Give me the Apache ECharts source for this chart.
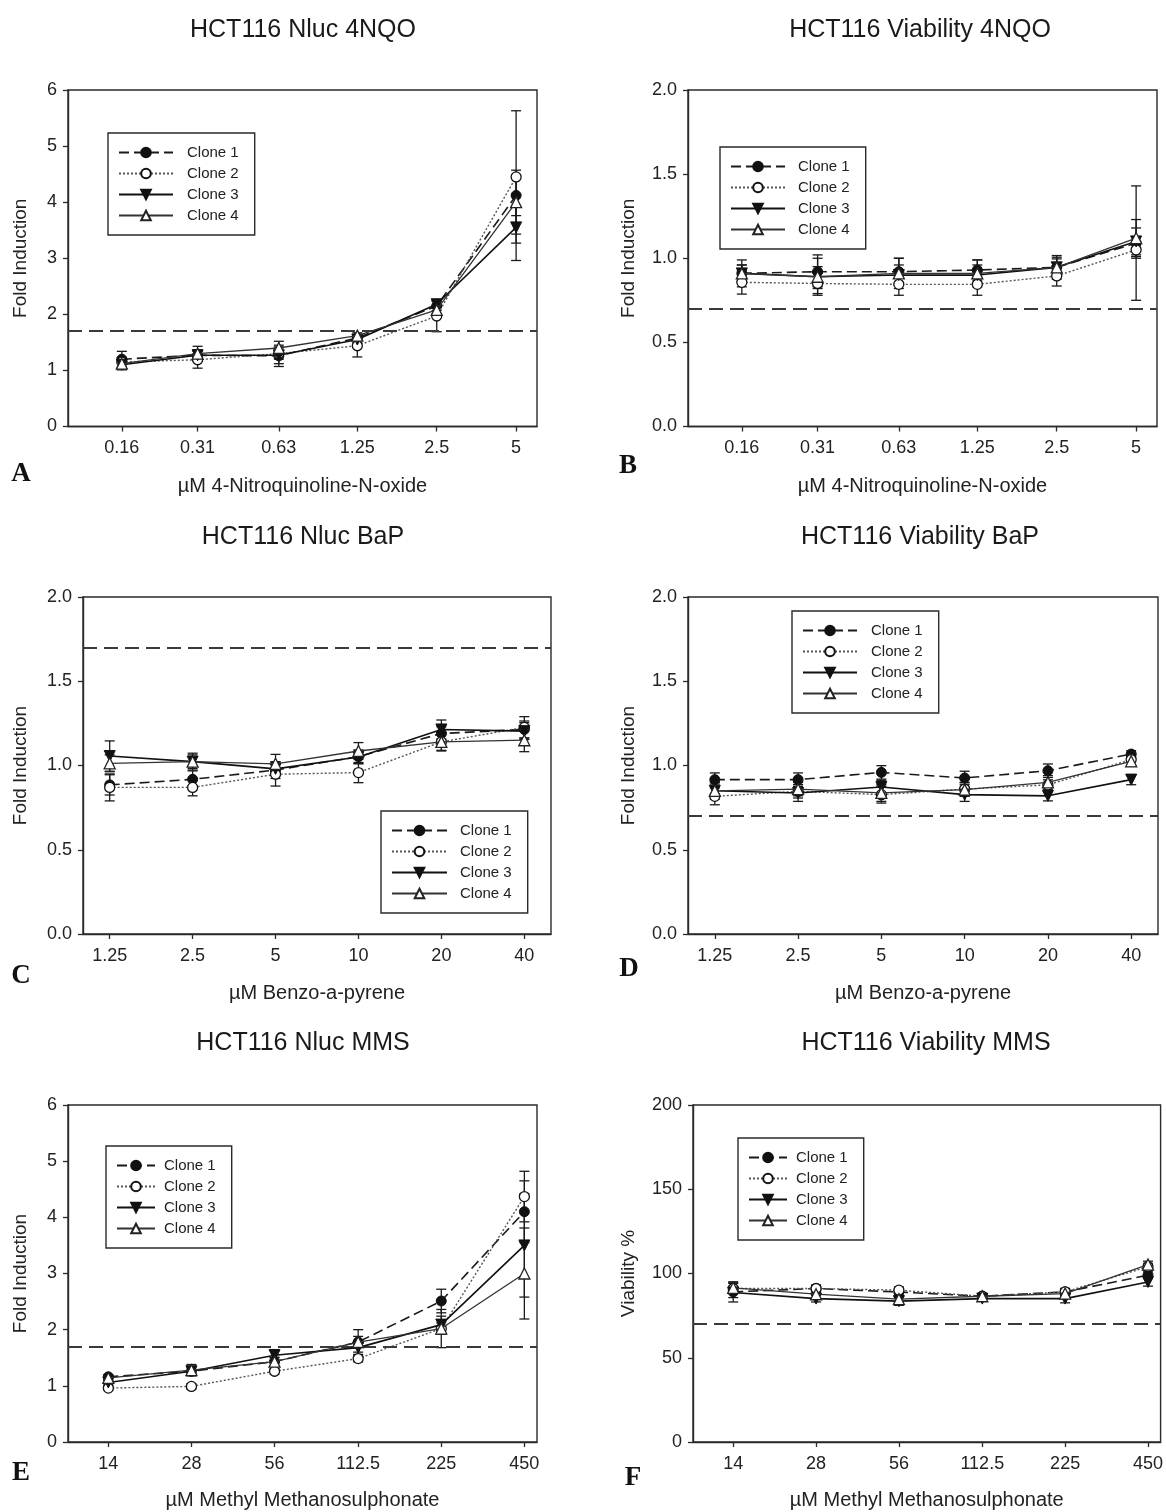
<!DOCTYPE html>
<html>
<head>
<meta charset="utf-8">
<script src="https://cdn.jsdelivr.net/npm/echarts@6/dist/echarts.min.js"></script>
<style>
  html, body { margin: 0; padding: 0; background: #fff; }
  #chart { width: 1166px; height: 1512px; }
</style>
</head>
<body>
<div id="chart"></div>
<script>
// ---- doses (µM) ----
const nqoDoses = [0.16, 0.31, 0.63, 1.25, 2.5, 5];
const bapDoses = [1.25, 2.5, 5, 10, 20, 40];
const mmsDoses = [14, 28, 56, 112.5, 225, 450];

const cloneNames = ['Clone 1', 'Clone 2', 'Clone 3', 'Clone 4'];

// ---- A: Nluc 4NQO (fold induction, mean and SD) ----
const nqoNluc1 = [1.20, 1.27, 1.26, 1.58, 2.15, 4.12];
const nqoNluc2 = [1.15, 1.19, 1.30, 1.44, 1.97, 4.45];
const nqoNluc3 = [1.10, 1.27, 1.27, 1.55, 2.18, 3.55];
const nqoNluc4 = [1.12, 1.30, 1.40, 1.62, 2.08, 4.00];
const nqoNluc1Sd = [0.14, 0.08, 0.19, 0.05, 0.08, 0.36];
const nqoNluc2Sd = [0.08, 0.15, 0.10, 0.20, 0.28, 1.18];
const nqoNluc3Sd = [0.09, 0.10, 0.15, 0.05, 0.05, 0.59];
const nqoNluc4Sd = [0.10, 0.13, 0.12, 0.05, 0.08, 0.57];

// ---- B: Viability 4NQO ----
const nqoVia1 = [0.91, 0.92, 0.92, 0.93, 0.946, 1.09];
const nqoVia2 = [0.857, 0.85, 0.845, 0.845, 0.895, 1.05];
const nqoVia3 = [0.91, 0.89, 0.90, 0.90, 0.946, 1.10];
const nqoVia4 = [0.91, 0.89, 0.91, 0.91, 0.946, 1.12];
const nqoVia1Sd = [0.08, 0.10, 0.08, 0.06, 0.07, 0.34];
const nqoVia2Sd = [0.07, 0.06, 0.065, 0.065, 0.06, 0.05];
const nqoVia3Sd = [0.05, 0.11, 0.06, 0.06, 0.05, 0.08];
const nqoVia4Sd = [0.05, 0.06, 0.09, 0.08, 0.06, 0.11];

// ---- C: Nluc BaP ----
const bapNluc1 = [0.885, 0.918, 0.973, 1.052, 1.19, 1.214];
const bapNluc2 = [0.87, 0.87, 0.948, 0.958, 1.14, 1.226];
const bapNluc3 = [1.056, 1.023, 0.98, 1.05, 1.214, 1.204];
const bapNluc4 = [1.013, 1.023, 1.01, 1.086, 1.14, 1.15];
const bapNluc1Sd = [0.06, 0.05, 0.05, 0.04, 0.04, 0.05];
const bapNluc2Sd = [0.08, 0.05, 0.07, 0.06, 0.054, 0.064];
const bapNluc3Sd = [0.09, 0.04, 0.04, 0.04, 0.056, 0.05];
const bapNluc4Sd = [0.05, 0.05, 0.056, 0.05, 0.05, 0.068];

// ---- D: Viability BaP ----
const bapVia1 = [0.916, 0.916, 0.959, 0.926, 0.969, 1.068];
const bapVia2 = [0.817, 0.847, 0.827, 0.86, 0.885, 1.035];
const bapVia3 = [0.85, 0.837, 0.872, 0.827, 0.82, 0.916];
const bapVia4 = [0.85, 0.86, 0.837, 0.857, 0.90, 1.025];
const bapVia1Sd = [0.04, 0.04, 0.04, 0.04, 0.04, 0.02];
const bapVia2Sd = [0.05, 0.04, 0.05, 0.04, 0.03, 0.03];
const bapVia3Sd = [0.05, 0.05, 0.04, 0.04, 0.03, 0.03];
const bapVia4Sd = [0.04, 0.04, 0.05, 0.04, 0.04, 0.03];

// ---- E: Nluc MMS ----
const mmsNluc1 = [1.16, 1.26, 1.43, 1.78, 2.51, 4.10];
const mmsNluc2 = [0.96, 0.99, 1.26, 1.485, 2.02, 4.37];
const mmsNluc3 = [1.06, 1.26, 1.545, 1.68, 2.09, 3.50];
const mmsNluc4 = [1.14, 1.28, 1.43, 1.78, 2.02, 3.00];
const mmsNluc1Sd = [0.04, 0.08, 0.07, 0.22, 0.21, 0.55];
const mmsNluc2Sd = [0.04, 0.05, 0.05, 0.06, 0.10, 0.45];
const mmsNluc3Sd = [0.04, 0.06, 0.10, 0.08, 0.15, 0.92];
const mmsNluc4Sd = [0.04, 0.10, 0.08, 0.10, 0.34, 0.81];

// ---- F: Viability MMS (%) ----
const mmsVia1 = [89.1, 91.1, 89.0, 86.5, 89.1, 99.0];
const mmsVia2 = [91.1, 91.1, 90.1, 86.5, 89.1, 104.0];
const mmsVia3 = [88.7, 85.1, 83.6, 85.1, 85.1, 95.0];
const mmsVia4 = [91.5, 87.7, 84.8, 86.5, 88.1, 105.3];
const mmsVia1Sd = [6, 2, 2, 1.5, 2, 2];
const mmsVia2Sd = [3, 2, 2, 1.5, 2, 2];
const mmsVia3Sd = [3, 2, 2.5, 1.5, 2.5, 2.5];
const mmsVia4Sd = [3, 2, 2, 1.5, 2, 2];

// cut-off lines (induction 1.7, viability 0.7 / 70 %)
const thresholds = [1.7, 0.7, 1.7, 0.7, 1.7, 70];

// ---- panel layout ----
const FONT = '"Liberation Sans", Arial, Helvetica, sans-serif';
const panels = [
  { letter: 'A', title: 'HCT116 Nluc 4NQO', doses: nqoDoses, xMin: 0.1, xMax: 6,
    xName: 'µM 4-Nitroquinoline-N-oxide', yName: 'Fold Induction', yMax: 6, yStep: 1, yDec: 0,
    means: [nqoNluc1, nqoNluc2, nqoNluc3, nqoNluc4], sds: [nqoNluc1Sd, nqoNluc2Sd, nqoNluc3Sd, nqoNluc4Sd],
    grid: { left: 68, top: 90, width: 469, height: 336.5 }, yGap: 38, xGap: 50,
    legend: { left: 108, top: 133, w: 54, tp: 9 }, titlePos: [303, 30], letterPos: [21, 474] },
  { letter: 'B', title: 'HCT116 Viability 4NQO', doses: nqoDoses, xMin: 0.1, xMax: 6,
    xName: 'µM 4-Nitroquinoline-N-oxide', yName: 'Fold Induction', yMax: 2, yStep: 0.5, yDec: 1,
    means: [nqoVia1, nqoVia2, nqoVia3, nqoVia4], sds: [nqoVia1Sd, nqoVia2Sd, nqoVia3Sd, nqoVia4Sd],
    grid: { left: 688, top: 90, width: 469, height: 336.5 }, yGap: 50, xGap: 50,
    legend: { left: 720, top: 147, w: 54, tp: 8 }, titlePos: [920, 30], letterPos: [628, 466] },
  { letter: 'C', title: 'HCT116 Nluc BaP', doses: bapDoses, xMin: 1, xMax: 50,
    xName: 'µM Benzo-a-pyrene', yName: 'Fold Induction', yMax: 2, yStep: 0.5, yDec: 1,
    means: [bapNluc1, bapNluc2, bapNluc3, bapNluc4], sds: [bapNluc1Sd, bapNluc2Sd, bapNluc3Sd, bapNluc4Sd],
    grid: { left: 83, top: 597, width: 468, height: 337 }, yGap: 53, xGap: 49,
    legend: { left: 381, top: 811, w: 55, tp: 8 }, titlePos: [303, 537], letterPos: [21, 976] },
  { letter: 'D', title: 'HCT116 Viability BaP', doses: bapDoses, xMin: 1, xMax: 50,
    xName: 'µM Benzo-a-pyrene', yName: 'Fold Induction', yMax: 2, yStep: 0.5, yDec: 1,
    means: [bapVia1, bapVia2, bapVia3, bapVia4], sds: [bapVia1Sd, bapVia2Sd, bapVia3Sd, bapVia4Sd],
    grid: { left: 688, top: 597, width: 470, height: 337 }, yGap: 50, xGap: 49,
    legend: { left: 792, top: 611, w: 54, tp: 9 }, titlePos: [920, 537], letterPos: [629, 969] },
  { letter: 'E', title: 'HCT116 Nluc MMS', doses: mmsDoses, xMin: 10, xMax: 500,
    xName: 'µM Methyl Methanosulphonate', yName: 'Fold Induction', yMax: 6, yStep: 1, yDec: 0,
    means: [mmsNluc1, mmsNluc2, mmsNluc3, mmsNluc4], sds: [mmsNluc1Sd, mmsNluc2Sd, mmsNluc3Sd, mmsNluc4Sd],
    grid: { left: 68, top: 1105, width: 469, height: 337 }, yGap: 38, xGap: 48,
    legend: { left: 106, top: 1146, w: 38, tp: 4 }, titlePos: [303, 1043], letterPos: [21, 1473] },
  { letter: 'F', title: 'HCT116 Viability MMS', doses: mmsDoses, xMin: 10, xMax: 500,
    xName: 'µM Methyl Methanosulphonate', yName: 'Viability %', yMax: 200, yStep: 50, yDec: 0,
    means: [mmsVia1, mmsVia2, mmsVia3, mmsVia4], sds: [mmsVia1Sd, mmsVia2Sd, mmsVia3Sd, mmsVia4Sd],
    grid: { left: 693, top: 1105, width: 469, height: 337 }, yGap: 55, xGap: 48,
    legend: { left: 738, top: 1138, w: 38, tp: 4 }, titlePos: [926, 1043], letterPos: [633, 1478] }
];

// ---- clone styles ----
const TRI_DOWN = 'path://M0,0 L10,0 L5,9 Z';
const cloneStyles = [
  { symbol: 'circle', size: 10, item: { color: '#111', borderColor: '#111', borderWidth: 1 },
    line: { color: '#1a1a1a', width: 1.6, type: [10, 5] } },
  { symbol: 'circle', size: 10, item: { color: '#fff', borderColor: '#111', borderWidth: 1.3 },
    line: { color: '#555', width: 1.4, type: [2, 2] } },
  { symbol: TRI_DOWN, size: 11, item: { color: '#111', borderColor: '#111', borderWidth: 1 },
    line: { color: '#111', width: 1.6, type: 'solid' } },
  { symbol: 'triangle', size: 11, item: { color: '#fff', borderColor: '#222', borderWidth: 1.3 },
    line: { color: '#333', width: 1.3, type: 'solid' } }
];

function renderErrorBar(params, api) {
  const x = api.value(0), m = api.value(1), s = api.value(2);
  const hi = api.coord([x, m + s]);
  const lo = api.coord([x, m - s]);
  const hw = 5;
  const st = { stroke: '#1a1a1a', lineWidth: 1.3 };
  return {
    type: 'group',
    children: [
      { type: 'line', shape: { x1: hi[0], y1: hi[1], x2: lo[0], y2: lo[1] }, style: st },
      { type: 'line', shape: { x1: hi[0] - hw, y1: hi[1], x2: hi[0] + hw, y2: hi[1] }, style: st },
      { type: 'line', shape: { x1: lo[0] - hw, y1: lo[1], x2: lo[0] + hw, y2: lo[1] }, style: st }
    ]
  };
}

const grids = [], xAxes = [], yAxes = [], series = [], legends = [], graphics = [];

panels.forEach((p, gi) => {
  grids.push(Object.assign({ show: true, borderColor: '#2a2a2a', borderWidth: 1.4, backgroundColor: 'transparent' }, p.grid));

  xAxes.push({
    type: 'log', logBase: 2, gridIndex: gi, min: p.xMin, max: p.xMax,
    name: p.xName, nameLocation: 'middle', nameGap: p.xGap,
    nameTextStyle: { fontFamily: FONT, fontSize: 20, color: '#222' },
    axisLine: { show: true, onZero: false, lineStyle: { color: '#2a2a2a', width: 1.4 } },
    axisTick: { show: true, inside: false, length: 5, customValues: p.doses, lineStyle: { color: '#2a2a2a', width: 1.3 } },
    axisLabel: { show: true, margin: 13, customValues: p.doses, fontFamily: FONT, fontSize: 18, color: '#222',
      formatter: v => String(+Number(v).toPrecision(4)) },
    minorTick: { show: false }, splitLine: { show: false }
  });

  yAxes.push({
    type: 'value', gridIndex: gi, min: 0, max: p.yMax, interval: p.yStep,
    name: p.yName, nameLocation: 'middle', nameGap: p.yGap,
    nameTextStyle: { fontFamily: FONT, fontSize: 19, color: '#222' },
    axisLine: { show: true, lineStyle: { color: '#2a2a2a', width: 1.4 } },
    axisTick: { show: true, inside: false, length: 5, lineStyle: { color: '#2a2a2a', width: 1.3 } },
    axisLabel: { margin: 11, fontFamily: FONT, fontSize: 18, color: '#222', formatter: v => v.toFixed(p.yDec) },
    splitLine: { show: false }
  });

  // error bars beneath the lines
  p.means.forEach((vals, ci) => {
    series.push({
      type: 'custom', name: p.letter + '-sd-' + (ci + 1), xAxisIndex: gi, yAxisIndex: gi,
      renderItem: renderErrorBar, encode: { x: 0, y: 1 }, z: 2, silent: true,
      data: p.doses.map((d, i) => [d, vals[i], p.sds[ci][i]])
    });
  });

  p.means.forEach((vals, ci) => {
    const cs = cloneStyles[ci];
    const s = {
      type: 'line', name: cloneNames[ci], xAxisIndex: gi, yAxisIndex: gi, z: 3 + ci,
      symbol: cs.symbol, symbolSize: cs.size, showSymbol: true, showAllSymbol: true,
      itemStyle: cs.item, lineStyle: cs.line, emphasis: { disabled: true },
      data: p.doses.map((d, i) => [d, vals[i]])
    };
    if (ci === 0) {
      s.markLine = {
        silent: true, symbol: 'none', label: { show: false },
        lineStyle: { color: '#3a3a3a', width: 2, type: [14, 7] },
        data: [{ yAxis: thresholds[gi] }]
      };
    }
    series.push(s);
  });

  legends.push({
    orient: 'vertical', left: p.legend.left, top: p.legend.top,
    data: cloneNames, itemWidth: p.legend.w, itemHeight: 12, itemGap: 6,
    padding: [12, 16, 12, 10], borderColor: '#2a2a2a', borderWidth: 1.4,
    backgroundColor: '#fff', selectedMode: false,
    textStyle: { fontFamily: FONT, fontSize: 15, color: '#222', lineHeight: 12, padding: [0, 0, 0, p.legend.tp] }
  });

  graphics.push({
    type: 'text', x: p.titlePos[0], y: p.titlePos[1],
    style: { text: p.title, font: '25px ' + FONT, fill: '#1a1a1a',
      align: 'center', verticalAlign: 'middle', textAlign: 'center', textVerticalAlign: 'middle' }
  });
  graphics.push({
    type: 'text', x: p.letterPos[0], y: p.letterPos[1],
    style: { text: p.letter, font: 'bold 27px "Liberation Serif", "Times New Roman", serif', fill: '#111',
      align: 'center', verticalAlign: 'middle', textAlign: 'center', textVerticalAlign: 'middle' }
  });
});

const chart = echarts.init(document.getElementById('chart'), null, { renderer: 'canvas' });
chart.setOption({
  animation: false,
  backgroundColor: '#fff',
  grid: grids, xAxis: xAxes, yAxis: yAxes,
  legend: legends, series: series, graphic: graphics
});
</script>
</body>
</html>
